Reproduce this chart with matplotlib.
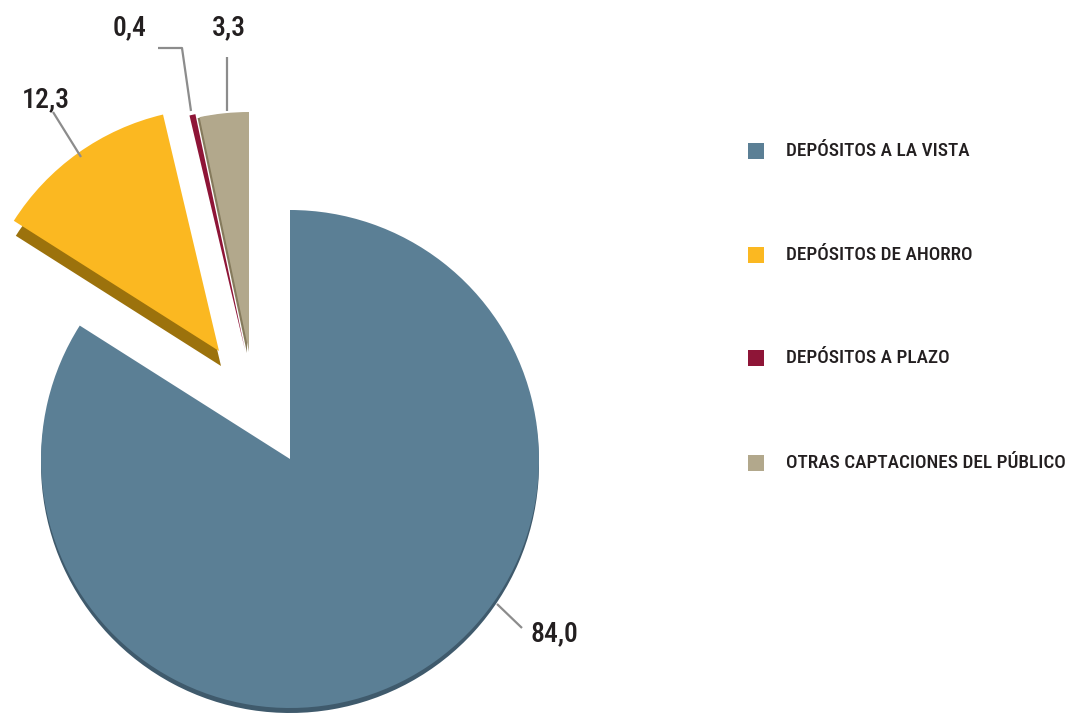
import numpy as np
import matplotlib.pyplot as plt
from matplotlib import font_manager
from matplotlib.patches import Wedge, Rectangle

# condensed face if there is one, else plain Roboto a bit smaller
installed = {f.name for f in font_manager.fontManager.ttflist}
if 'Roboto Condensed' in installed:
    family, lab_fs, leg_fs = 'Roboto Condensed', 20, 13.9
elif 'Liberation Sans Narrow' in installed:
    family, lab_fs, leg_fs = 'Liberation Sans Narrow', 20, 14
else:
    family, lab_fs, leg_fs = 'Roboto', 17, 12
plt.rcParams['font.family'] = [family, 'DejaVu Sans']

categories = ["DEPÓSITOS A LA VISTA", "DEPÓSITOS DE AHORRO",
              "DEPÓSITOS A PLAZO", "OTRAS CAPTACIONES DEL PÚBLICO"]
values = [84.0, 12.3, 0.4, 3.3]
colors = ["#5B7F95", "#FBB821", "#8E1537", "#B2A88C"]
side_colors = ["#3F5A6C", "#9C720C", "#5E0E24", "#857A5C"]

W, H = 1071, 713
# wedge centres and radii in pixels (y from bottom), exploded slices moved up-left
centres = [(290, H - 459), (219, H - 351), (245, H - 350), (249, H - 352)]
radii = [249, 243, 241, 240]
side_off = [(0, -5), (2, -15), (0, 0), (-2, -1)]

# label text centres and leader lines (pixels from top)
label_xy = [(554, 634), (46, 100), (130, 28), (229, 28)]
leaders = [[(497, 604), (522, 628)],
           [(81, 157), (53, 112)],
           [(191, 111), (182, 48), (158, 48)],
           [(227, 111), (227, 57)]]

fig = plt.figure(figsize=(W / 100, H / 100), dpi=100)
ax = fig.add_axes([0, 0, 1, 1])
ax.set_xlim(0, W)
ax.set_ylim(0, H)
ax.axis('off')

# angles: start at 12 o'clock, clockwise
start = 90.0
for i, v in enumerate(values):
    t2 = start
    t1 = start - 360.0 * v / 100.0
    start = t1
    cx, cy = centres[i]
    dx, dy = side_off[i]
    if dx or dy:
        ax.add_patch(Wedge((cx + dx, cy + dy), radii[i], t1, t2,
                           facecolor=side_colors[i], edgecolor='none', zorder=1))
    ax.add_patch(Wedge((cx, cy), radii[i], t1, t2,
                       facecolor=colors[i], edgecolor='none', zorder=2))

# value labels
for i, v in enumerate(values):
    pts = leaders[i]
    ax.plot([p[0] for p in pts], [H - p[1] for p in pts], color='#8C8C8C',
            lw=1.6, zorder=3, solid_capstyle='butt')
    x, y = label_xy[i]
    ax.text(x, H - y, f"{v:.1f}".replace('.', ','), fontsize=lab_fs,
            fontweight='medium', color='#231F20', ha='center', va='center',
            zorder=4)

# legend
leg_y = [151, 255, 358, 463]
for i, name in enumerate(categories):
    y = H - leg_y[i]
    ax.add_patch(Rectangle((748, y - 8), 16, 16, facecolor=colors[i],
                           edgecolor='none'))
    ax.text(786, y, name, fontsize=leg_fs, fontweight='medium',
            color='#231F20', ha='left', va='center')

fig.savefig('out.png', dpi=100)
